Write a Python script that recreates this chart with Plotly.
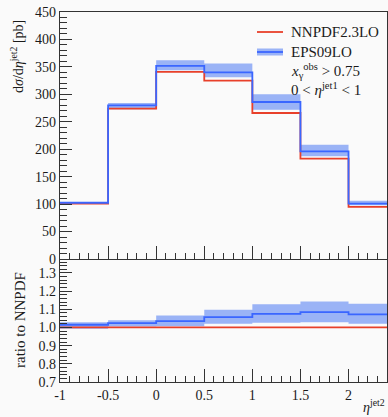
import plotly.graph_objects as go

# ---- data ----
eta_edges = [-1.0, -0.5, 0.0, 0.5, 1.0, 1.5, 2.0, 2.5]
nnpdf = [101, 274, 341, 325, 266, 183, 95]
eps09 = [102.5, 280, 352, 340, 286, 196, 101]
eps09_lo = [100, 273, 344, 331, 272, 187, 98]
eps09_hi = [104, 284, 362, 356, 300, 208, 106]

ratio_nnpdf = [1.0, 1.0, 1.0, 1.0, 1.0, 1.0, 1.0]
ratio_eps09 = [1.015, 1.024, 1.035, 1.057, 1.075, 1.084, 1.072]
ratio_eps09_lo = [0.993, 1.005, 1.007, 1.020, 1.026, 1.029, 1.020]
ratio_eps09_hi = [1.029, 1.040, 1.066, 1.097, 1.127, 1.143, 1.130]

x_tickvals = [-1, -0.5, 0, 0.5, 1, 1.5, 2]
x_ticktext = ["-1", "-0.5", "0", "0.5", "1", "1.5", "2"]

RED = "#e8402a"
BLUE = "#3a66ff"
BAND = "#9ab3f6"
AX = "#333333"
TXT = "#1a1a1a"
FONT = "Liberation Serif"


def step(v):
    return list(v) + [v[-1]]


fig = go.Figure()

# top panel (xaxis2 / yaxis2)
fig.add_trace(go.Scatter(x=eta_edges, y=step(eps09_lo), mode="lines", line_shape="hv",
                         line=dict(width=0, color=BAND), xaxis="x2", yaxis="y2",
                         showlegend=False, hoverinfo="skip"))
fig.add_trace(go.Scatter(x=eta_edges, y=step(eps09_hi), mode="lines", line_shape="hv",
                         line=dict(width=0, color=BAND), fill="tonexty", fillcolor=BAND,
                         xaxis="x2", yaxis="y2", showlegend=False, hoverinfo="skip"))
fig.add_trace(go.Scatter(x=eta_edges, y=step(nnpdf), mode="lines", line_shape="hv",
                         line=dict(width=1.8, color=RED), xaxis="x2", yaxis="y2",
                         showlegend=False))
fig.add_trace(go.Scatter(x=eta_edges, y=step(eps09), mode="lines", line_shape="hv",
                         line=dict(width=1.8, color=BLUE), xaxis="x2", yaxis="y2",
                         showlegend=False))

# bottom ratio panel (xaxis / yaxis)
fig.add_trace(go.Scatter(x=eta_edges, y=step(ratio_eps09_lo), mode="lines", line_shape="hv",
                         line=dict(width=0, color=BAND), showlegend=False, hoverinfo="skip"))
fig.add_trace(go.Scatter(x=eta_edges, y=step(ratio_eps09_hi), mode="lines", line_shape="hv",
                         line=dict(width=0, color=BAND), fill="tonexty", fillcolor=BAND,
                         showlegend=False, hoverinfo="skip"))
fig.add_trace(go.Scatter(x=eta_edges, y=step(ratio_nnpdf), mode="lines", line_shape="hv",
                         line=dict(width=1.8, color=RED), showlegend=False))
fig.add_trace(go.Scatter(x=eta_edges, y=step(ratio_eps09), mode="lines", line_shape="hv",
                         line=dict(width=1.8, color=BLUE), showlegend=False))

tickfont = dict(family=FONT, size=14, color=TXT)

xcommon = dict(range=[-1, 2.4], showgrid=False, zeroline=False, showline=True,
               linecolor=AX, linewidth=1.3, mirror=True, ticks="inside", ticklen=13,
               tickwidth=1.2, tickcolor=AX, tickvals=x_tickvals, automargin=False,
               tickfont=tickfont,
               minor=dict(dtick=0.1, tick0=0, ticks="inside", ticklen=6, tickwidth=1.1,
                          tickcolor=AX, showgrid=False))

fig.update_layout(
    width=388, height=417,
    margin=dict(l=60, r=1, t=12, b=35),
    paper_bgcolor="#fafafa", plot_bgcolor="#fafafa",
    font=dict(family=FONT, size=14, color=TXT),
    showlegend=False,
    xaxis=dict(**xcommon, anchor="y", ticktext=x_ticktext, showticklabels=True),
    yaxis=dict(domain=[0, 0.3297], range=[0.7, 1.371], showgrid=False, zeroline=False,
               showline=True, linecolor=AX, linewidth=1.3, mirror=True, automargin=False,
               ticks="inside", ticklen=12, tickwidth=1.2, tickcolor=AX, tickfont=tickfont,
               tickvals=[0.7, 0.8, 0.9, 1.0, 1.1, 1.2, 1.3], tickformat=".1f",
               minor=dict(dtick=0.02, tick0=0.7, ticks="inside", ticklen=7, tickwidth=1.1,
                          tickcolor=AX, showgrid=False)),
    xaxis2=dict(**xcommon, anchor="y2", matches="x", showticklabels=False),
    yaxis2=dict(domain=[0.3324, 1], range=[0, 450], showgrid=False, zeroline=False,
                showline=True, linecolor=AX, linewidth=1.3, mirror=True, automargin=False,
                ticks="inside", ticklen=12, tickwidth=1.2, tickcolor=AX, dtick=50,
                tickfont=tickfont,
                minor=dict(dtick=10, ticks="inside", ticklen=7, tickwidth=1.1,
                           tickcolor=AX, showgrid=False)),
)


def px(x):
    return (x - 60) / 327.0


def py(y):
    return (382 - y) / 370.0


# legend samples (paper coordinates)
fig.add_shape(type="line", xref="paper", yref="paper", x0=px(257), x1=px(283),
              y0=py(32), y1=py(32), line=dict(color=RED, width=1.8))
fig.add_shape(type="rect", xref="paper", yref="paper", x0=px(257), x1=px(283),
              y0=py(48.5), y1=py(55.5), line=dict(width=0), fillcolor=BAND)
fig.add_shape(type="line", xref="paper", yref="paper", x0=px(257), x1=px(283),
              y0=py(52), y1=py(52), line=dict(color=BLUE, width=1.8))

legend_texts = [
    ("NNPDF2.3LO", 32),
    ("EPS09LO", 52),
    ("<i>x</i><sub>γ</sub><sup>obs</sup> > 0.75", 71),
    ("0 < <i>η</i><sup>jet1</sup> < 1", 89),
]
for txt, yy in legend_texts:
    fig.add_annotation(text=txt, xref="paper", yref="paper", x=px(289), y=py(yy),
                       xanchor="left", yanchor="middle", showarrow=False,
                       font=dict(family=FONT, size=15, color=TXT))

# axis titles
fig.add_annotation(text="d<i>σ</i>/d<i>η</i><sup>jet2</sup> [pb]", xref="paper", yref="paper",
                   x=px(17), y=py(57), textangle=-90, xanchor="center", yanchor="middle",
                   showarrow=False, font=dict(family=FONT, size=14, color=TXT))
fig.add_annotation(text="ratio to NNPDF", xref="paper", yref="paper",
                   x=px(20), y=py(320), textangle=-90, xanchor="center", yanchor="middle",
                   showarrow=False, font=dict(family=FONT, size=15, color=TXT))
fig.add_annotation(text="<i>η</i><sup>jet2</sup>", xref="paper", yref="paper",
                   x=1.0, y=py(406), xanchor="right", yanchor="middle",
                   showarrow=False, font=dict(family=FONT, size=14, color=TXT))

fig.write_html("out.html",
               config={"displayModeBar": False},
               post_script="document.body.style.margin='0';"
                           "document.body.style.overflow='hidden';")
